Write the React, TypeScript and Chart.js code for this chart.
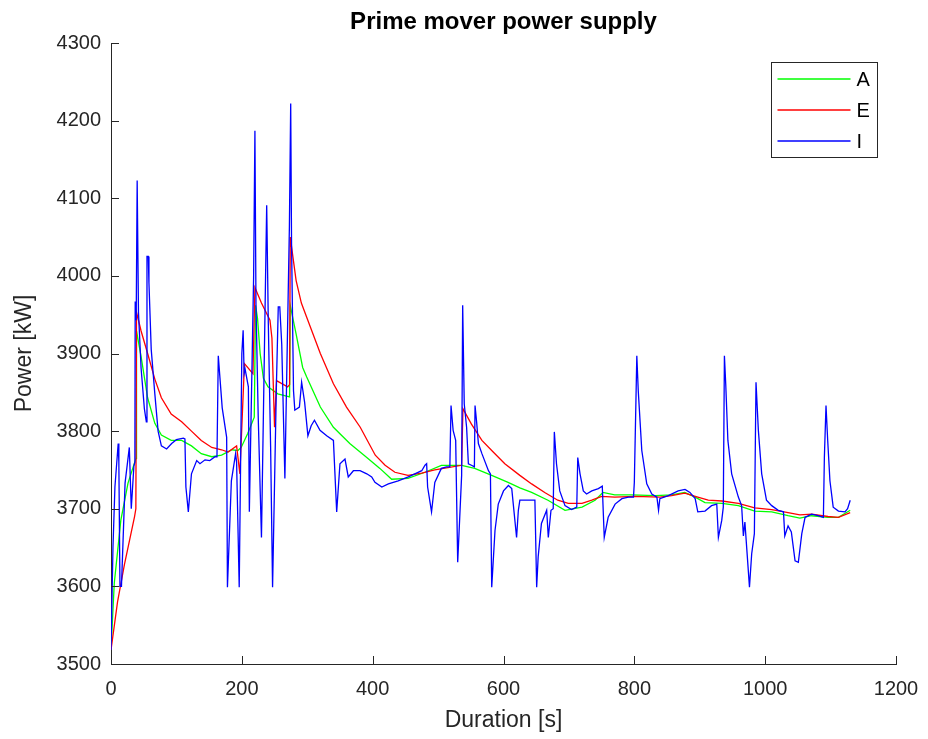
import React, { useEffect, useRef } from "react";
import { Chart, registerables } from "chart.js";

Chart.register(...registerables);

// ---- Data (time in s, power in kW) ----
const aTime = [0, 5, 15, 26, 37, 38.5, 39, 46, 56, 67, 77, 92, 108, 123, 138, 154, 169, 185, 194, 199, 209, 219, 221, 224, 228, 233, 240, 255, 273, 274, 283, 293, 299, 320, 340, 365, 391, 411, 429, 454, 480, 505, 536, 556, 582, 607, 625, 643, 668, 694, 720, 740, 752, 770, 796, 832, 857, 877, 893, 908, 934, 959, 984, 1010, 1035, 1053, 1071, 1096, 1112, 1130];
const aPower = [3518, 3604, 3685, 3733, 3762, 3765, 3929, 3896, 3843, 3810, 3795, 3788, 3788, 3781, 3771, 3767, 3769, 3776, 3775, 3779, 3797, 3818, 3962, 3945, 3900, 3868, 3857, 3848, 3844, 3962, 3925, 3882, 3870, 3831, 3805, 3784, 3766, 3752, 3738, 3739, 3747, 3756, 3756, 3752, 3743, 3734, 3727, 3721, 3711, 3698, 3702, 3711, 3721, 3718, 3718, 3717, 3718, 3721, 3715, 3708, 3707, 3704, 3697, 3696, 3691, 3688, 3691, 3689, 3689, 3698];

const eTime = [0, 10, 20.5, 36, 38, 39, 46, 56, 67, 77, 92, 108, 123, 138, 154, 169, 179, 192, 197, 204, 217, 220, 230, 243, 246, 250, 253, 270, 273, 274, 283, 291, 299, 320, 340, 360, 381, 404, 419, 434, 454, 475, 495, 515, 536, 538, 551, 567, 582, 602, 625, 643, 663, 683, 699, 720, 735, 750, 770, 801, 839, 857, 877, 897, 913, 934, 959, 984, 1010, 1035, 1053, 1071, 1096, 1112, 1130];
const ePower = [3518, 3580, 3628, 3690, 3700, 3953, 3929, 3900, 3867, 3843, 3822, 3812, 3800, 3788, 3779, 3776, 3773, 3781, 3745, 3887, 3874, 3985, 3965, 3943, 3920, 3805, 3865, 3857, 3860, 4050, 3994, 3965, 3947, 3900, 3861, 3831, 3805, 3769, 3756, 3747, 3743, 3746, 3750, 3753, 3756, 3829, 3809, 3788, 3775, 3758, 3743, 3732, 3721, 3711, 3707, 3707, 3711, 3716, 3715, 3716, 3715, 3717, 3720, 3715, 3711, 3710, 3707, 3701, 3699, 3695, 3692, 3693, 3690, 3689, 3695];

const iTime = [0, 3, 6, 11, 12, 13.7, 16, 21.5, 28, 31, 35, 36.5, 37, 38.5, 40, 42, 46, 51, 54, 55, 57, 58, 61.5, 67, 72, 77, 85, 92.7, 100, 110.6, 113, 114.5, 118.2, 123, 131, 136, 143.7, 151, 159, 162, 164, 170, 176.8, 178, 184, 190.5, 192, 196, 200, 202, 203.5, 205, 210, 211.5, 218, 220, 221.6, 225, 230, 238, 240.5, 244, 247, 253, 255.7, 258, 261, 265.8, 272.7, 274.7, 276, 279, 281, 288, 291.4, 296, 301, 306, 311, 319.5, 329.7, 340, 345, 350, 357.7, 362.7, 370.5, 380.7, 391, 398.5, 403.5, 414, 424, 439, 454.5, 475, 480, 482.5, 484, 490, 495, 505, 513, 518, 519.8, 523, 526.9, 530, 536, 537.6, 540, 543.6, 546.3, 551, 555.5, 556.5, 559, 561.6, 567, 577, 580, 582, 587, 592, 600, 607.5, 612.6, 620, 622.7, 625, 648, 650.7, 653, 658, 666, 668.5, 672.6, 676, 677.7, 681, 686, 694, 704, 712, 713.5, 717, 722, 727, 735, 745, 751, 754, 760, 770.6, 781, 791, 798.7, 800, 803.8, 806, 811.4, 819, 826.7, 834.5, 837, 839, 852, 867, 877.5, 885, 893, 897, 908, 918, 926, 928.5, 933.6, 936, 937.7, 939.7, 943, 948.8, 959, 964, 966.7, 969, 976, 979.4, 983.5, 986, 989.6, 994.7, 1002, 1010, 1020, 1028, 1030, 1035, 1040, 1045.7, 1050.7, 1056, 1061, 1071, 1081, 1089, 1090.5, 1093, 1095.6, 1099, 1104, 1112, 1122, 1126, 1130];
const iPower = [3518, 3650, 3728, 3784, 3760, 3600, 3600, 3733, 3779, 3700, 3755, 3760, 3967, 3943, 4123, 3953, 3881, 3829, 3812, 4025, 4025, 3991, 3905, 3848, 3800, 3781, 3777, 3784, 3789, 3791, 3790, 3728, 3696, 3745, 3762, 3758, 3763, 3762, 3767, 3767, 3897, 3830, 3792, 3599, 3736, 3771, 3760, 3599, 3900, 3930, 3874, 3880, 3857, 3696, 3998, 4187, 3964, 3820, 3663, 4091, 3938, 3780, 3599, 3865, 3960, 3960, 3912, 3739, 4063, 4222, 4041, 3852, 3827, 3831, 3863, 3837, 3794, 3807, 3814, 3801, 3794, 3788, 3696, 3758, 3764, 3741, 3749, 3749, 3745, 3741, 3734, 3728, 3732, 3736, 3741, 3749, 3756, 3758, 3728, 3696, 3734, 3752, 3754, 3754, 3833, 3801, 3788, 3631, 3743, 3962, 3835, 3805, 3758, 3756, 3754, 3833, 3811, 3784, 3771, 3749, 3745, 3599, 3672, 3706, 3723, 3730, 3726, 3663, 3698, 3711, 3711, 3599, 3638, 3681, 3698, 3663, 3698, 3700, 3799, 3758, 3723, 3704, 3699, 3702, 3766, 3745, 3723, 3719, 3723, 3726, 3729, 3663, 3689, 3706, 3713, 3715, 3715, 3734, 3897, 3852, 3775, 3732, 3719, 3715, 3698, 3713, 3717, 3723, 3725, 3721, 3713, 3696, 3697, 3704, 3706, 3663, 3685, 3702, 3897, 3861, 3788, 3745, 3715, 3704, 3665, 3683, 3599, 3642, 3668, 3863, 3801, 3745, 3711, 3704, 3698, 3696, 3665, 3678, 3670, 3633, 3631, 3668, 3689, 3693, 3691, 3689, 3766, 3833, 3788, 3736, 3702, 3697, 3696, 3700, 3711];

const seriesLabels = ["A", "E", "I"];
const seriesColors = ["#00ff00", "#ff0000", "#0000ff"];
const xTicks = [0, 200, 400, 600, 800, 1000, 1200];
const yTicks = [3500, 3600, 3700, 3800, 3900, 4000, 4100, 4200, 4300];

const FONT = "'Liberation Sans', Arial, Helvetica, sans-serif";
const AXIS = "#262626";

const toPoints = (t: number[], p: number[]) => t.map((x, i) => ({ x, y: p[i] }));

const innerTicksAndLegend = {
  id: "innerTicksAndLegend",
  afterDraw(chart: any) {
    const { ctx, chartArea, scales } = chart;
    ctx.save();
    ctx.strokeStyle = AXIS;
    ctx.lineWidth = 1;
    xTicks.forEach((v) => {
      const px = Math.round(scales.x.getPixelForValue(v)) + 0.5;
      ctx.beginPath();
      ctx.moveTo(px, chartArea.bottom);
      ctx.lineTo(px, chartArea.bottom - 8);
      ctx.stroke();
    });
    yTicks.forEach((v) => {
      const py = Math.round(scales.y.getPixelForValue(v)) + 0.5;
      ctx.beginPath();
      ctx.moveTo(chartArea.left, py);
      ctx.lineTo(chartArea.left + 8, py);
      ctx.stroke();
    });

    // legend box
    const boxW = 106;
    const boxH = 95;
    const bx = Math.round(chartArea.right - 19 - boxW) + 0.5;
    const by = Math.round(chartArea.top + 19) + 0.5;
    ctx.fillStyle = "#ffffff";
    ctx.fillRect(bx, by, boxW, boxH);
    ctx.strokeStyle = AXIS;
    ctx.strokeRect(bx, by, boxW, boxH);
    ctx.font = `20px ${FONT}`;
    ctx.textBaseline = "middle";
    ctx.textAlign = "left";
    seriesLabels.forEach((lab, i) => {
      const ly = by + 16.5 + i * 31;
      ctx.strokeStyle = seriesColors[i];
      ctx.lineWidth = 1.3;
      ctx.beginPath();
      ctx.moveTo(bx + 6, ly);
      ctx.lineTo(bx + 79, ly);
      ctx.stroke();
      ctx.fillStyle = "#000000";
      ctx.fillText(lab, bx + 85, ly + 1);
    });
    ctx.restore();
  },
};

export default function App() {
  const ref = useRef<HTMLCanvasElement | null>(null);

  useEffect(() => {
    if (!ref.current) return;
    const chart = new Chart(ref.current, {
      type: "line",
      data: {
        datasets: [
          { label: seriesLabels[0], data: toPoints(aTime, aPower), borderColor: seriesColors[0], order: 2 },
          { label: seriesLabels[1], data: toPoints(eTime, ePower), borderColor: seriesColors[1], order: 1 },
          { label: seriesLabels[2], data: toPoints(iTime, iPower), borderColor: seriesColors[2], order: 0 },
        ].map((d) => ({
          ...d,
          borderWidth: 1.3,
          pointRadius: 0,
          tension: 0,
          fill: false,
          backgroundColor: d.borderColor,
        })),
      },
      options: {
        animation: false,
        responsive: false,
        maintainAspectRatio: false,
        layout: { padding: { left: 0, right: 32, top: 0, bottom: 0 } },
        plugins: {
          legend: { display: false },
          tooltip: { enabled: false },
          title: {
            display: true,
            text: "Prime mover power supply",
            fullSize: false,
            color: "#000000",
            font: { family: FONT, size: 24, weight: "bold", lineHeight: 1.2 },
            padding: { top: 8, bottom: 6.2 },
          },
        },
        scales: {
          x: {
            type: "linear",
            min: 0,
            max: 1200,
            afterFit: (s: any) => {
              s.height = 75;
              s.paddingLeft = 0;
              s.paddingRight = 0;
            },
            afterBuildTicks: (s: any) => {
              s.ticks = xTicks.map((v) => ({ value: v }));
            },
            grid: { display: true, drawOnChartArea: false, drawTicks: false },
            border: { display: true, color: AXIS, width: 1 },
            ticks: {
              color: AXIS,
              padding: 13,
              maxRotation: 0,
              font: { family: FONT, size: 20 },
              callback: (v: any) => String(v),
            },
            title: {
              display: true,
              text: "Duration [s]",
              color: AXIS,
              font: { family: FONT, size: 23 },
              padding: { top: 0, bottom: 5 },
            },
          },
          y: {
            type: "linear",
            min: 3500,
            max: 4300,
            afterFit: (s: any) => {
              s.width = 111;
              s.paddingTop = 0;
              s.paddingBottom = 0;
            },
            afterBuildTicks: (s: any) => {
              s.ticks = yTicks.map((v) => ({ value: v }));
            },
            grid: { display: true, drawOnChartArea: false, drawTicks: false },
            border: { display: true, color: AXIS, width: 1 },
            ticks: {
              color: AXIS,
              padding: 10,
              font: { family: FONT, size: 20 },
              callback: (v: any) => String(v),
            },
            title: {
              display: true,
              text: "Power [kW]",
              color: AXIS,
              font: { family: FONT, size: 23 },
              padding: { top: 11, bottom: 0 },
            },
          },
        },
      },
      plugins: [innerTicksAndLegend],
    } as any);
    return () => chart.destroy();
  }, []);

  return (
    <div style={{ position: "fixed", left: 0, top: 0, width: 928, height: 739, background: "#ffffff" }}>
      <canvas ref={ref} width={928} height={739} style={{ display: "block" }} />
    </div>
  );
}
